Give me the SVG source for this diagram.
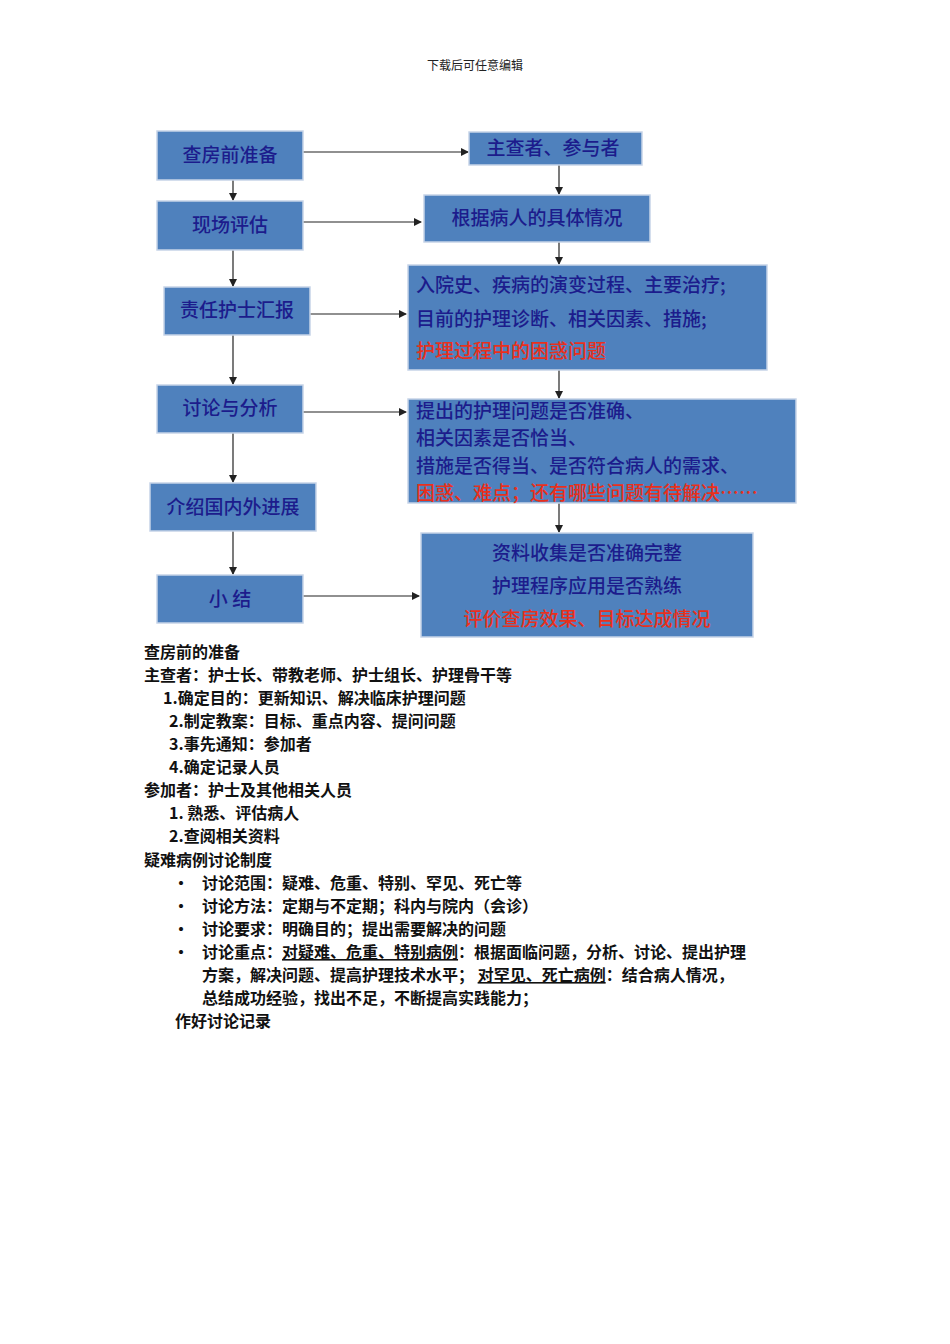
<svg xmlns="http://www.w3.org/2000/svg" width="950" height="1344" viewBox="0 0 950 1344">
<style>
.b{fill:#4f81bd;stroke:#c6d4e8;stroke-width:1.5}
.t{font-family:"Noto Sans CJK SC","Noto Serif CJK SC",sans-serif;font-size:19px;fill:#1c1c8c;font-weight:500}
.r{fill:#e8301c}
.c{text-anchor:middle}
.l{stroke:#222;stroke-width:1.2;fill:none;marker-end:url(#a)}
.p{font-family:"Noto Sans CJK SC",sans-serif;font-size:16px;font-weight:bold;fill:#111}
</style>
<defs><marker id="a" markerWidth="8" markerHeight="8" refX="7" refY="4" orient="auto" markerUnits="userSpaceOnUse"><path d="M0,0L8,4L0,8z" fill="#222"/></marker></defs>
<rect width="950" height="1344" fill="#fff"/>
<text x="475" y="70" text-anchor="middle" font-family="Noto Sans CJK SC,sans-serif" font-size="12" fill="#222">下载后可任意编辑</text>
<g id="connectors">
<path class="l" d="M303,152H468"/><path class="l" d="M303,222H421"/><path class="l" d="M310,314H406"/><path class="l" d="M303,412H406"/><path class="l" d="M303,596H419"/>
<path class="l" d="M233,180V200"/><path class="l" d="M233,250V286"/><path class="l" d="M233,335V384"/><path class="l" d="M233,433V482"/><path class="l" d="M233,531V574"/>
<path class="l" d="M559,165V194"/><path class="l" d="M559,242V264"/><path class="l" d="M559,370V398"/><path class="l" d="M559,503V532"/>
</g>
<g id="n1"><rect class="b" x="157" y="131" width="146" height="49"/><text class="t c" x="230" y="162">查房前准备</text></g>
<g id="n2"><rect class="b" x="469" y="132" width="173" height="33"/><text class="t c" x="553" y="155">主查者、参与者</text></g>
<g id="n3"><rect class="b" x="157" y="201" width="146" height="49"/><text class="t c" x="230" y="232">现场评估</text></g>
<g id="n4"><rect class="b" x="424" y="195" width="226" height="47"/><text class="t c" x="537" y="225">根据病人的具体情况</text></g>
<g id="n5"><rect class="b" x="164" y="287" width="146" height="48"/><text class="t c" x="237" y="317">责任护士汇报</text></g>
<g id="n6"><rect class="b" x="408" y="265" width="359" height="105"/><text class="t" x="416" y="292">入院史、疾病的演变过程、主要治疗;</text><text class="t" x="416" y="326">目前的护理诊断、相关因素、措施;</text><text class="t r" x="416" y="358">护理过程中的困惑问题</text></g>
<g id="n7"><rect class="b" x="157" y="385" width="146" height="48"/><text class="t c" x="230" y="415">讨论与分析</text></g>
<g id="n8"><rect class="b" x="408" y="399" width="388" height="104"/><text class="t" x="416" y="418">提出的护理问题是否准确、</text><text class="t" x="416" y="445">相关因素是否恰当、</text><text class="t" x="416" y="473">措施是否得当、是否符合病人的需求、</text><text class="t r" x="416" y="500">困惑、难点；还有哪些问题有待解决……</text></g>
<g id="n9"><rect class="b" x="150" y="483" width="166" height="48"/><text class="t c" x="233" y="514">介绍国内外进展</text></g>
<g id="n10"><rect class="b" x="157" y="575" width="146" height="48"/><text class="t c" x="230" y="606">小  结</text></g>
<g id="n11"><rect class="b" x="421" y="533" width="332" height="104"/><text class="t c" x="587" y="560">资料收集是否准确完整</text><text class="t c" x="587" y="593">护理程序应用是否熟练</text><text class="t c r" x="587" y="626">评价查房效果、目标达成情况</text></g>
<g id="notes" class="p">
<text x="144" y="658">查房前的准备</text>
<text x="144" y="681">主查者：护士长、带教老师、护士组长、护理骨干等</text>
<text x="163" y="704">1.确定目的：更新知识、解决临床护理问题</text>
<text x="169" y="727">2.制定教案：目标、重点内容、提问问题</text>
<text x="169" y="750">3.事先通知：参加者</text>
<text x="169" y="773">4.确定记录人员</text>
<text x="144" y="796">参加者：护士及其他相关人员</text>
<text x="169" y="819">1. 熟悉、评估病人</text>
<text x="169" y="842">2.查阅相关资料</text>
<text x="144" y="866">疑难病例讨论制度</text>
<text x="173" y="889">•</text><text x="202" y="889">讨论范围：疑难、危重、特别、罕见、死亡等</text>
<text x="173" y="912">•</text><text x="202" y="912">讨论方法：定期与不定期；科内与院内（会诊）</text>
<text x="173" y="935">•</text><text x="202" y="935">讨论要求：明确目的；提出需要解决的问题</text>
<text x="173" y="958">•</text><text x="202" y="958">讨论重点：<tspan text-decoration="underline">对疑难、危重、特别病例</tspan>：根据面临问题，分析、讨论、提出护理</text>
<text x="202" y="981">方案，解决问题、提高护理技术水平；  <tspan text-decoration="underline">对罕见、死亡病例</tspan>：结合病人情况，</text>
<text x="202" y="1004">总结成功经验，找出不足，不断提高实践能力；</text>
<text x="175" y="1027">作好讨论记录</text>
</g>
</svg>
